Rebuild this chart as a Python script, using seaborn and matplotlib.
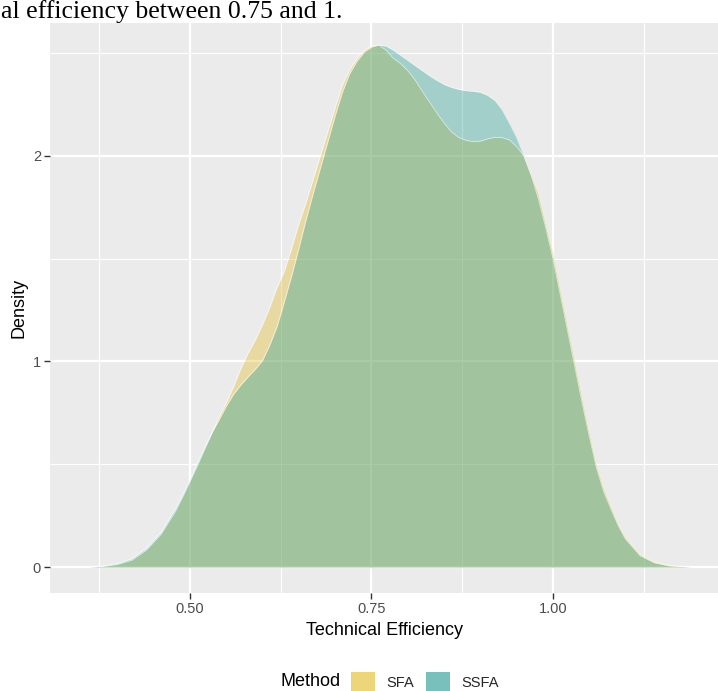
import matplotlib
matplotlib.use("Agg")
import matplotlib.pyplot as plt
from matplotlib.patches import Patch
import seaborn as sns
import pandas as pd

# ---- data ----
x_grid = [0.361, 0.38, 0.40, 0.42, 0.44, 0.46, 0.48, 0.49,
          0.50, 0.51, 0.52, 0.53, 0.54, 0.55, 0.56, 0.57, 0.58, 0.59,
          0.60, 0.61, 0.62, 0.63, 0.64, 0.65, 0.66, 0.67, 0.68, 0.69,
          0.70, 0.71, 0.72, 0.73, 0.74, 0.75, 0.76, 0.77, 0.78, 0.79,
          0.80, 0.81, 0.82, 0.83, 0.84, 0.85, 0.86, 0.87, 0.88, 0.89,
          0.90, 0.91, 0.92, 0.93, 0.94, 0.95, 0.96, 0.97, 0.98, 0.99,
          1.00, 1.01, 1.02, 1.03, 1.04, 1.05, 1.06, 1.07, 1.08, 1.09,
          1.10, 1.12, 1.14, 1.16, 1.19]

sfa_density = [0.0, 0.003, 0.012, 0.033, 0.082, 0.158, 0.270, 0.340,
               0.415, 0.490, 0.570, 0.648, 0.730, 0.800, 0.877, 0.965, 1.040, 1.105,
               1.180, 1.265, 1.360, 1.440, 1.550, 1.670, 1.775, 1.890, 2.005, 2.120,
               2.235, 2.345, 2.420, 2.475, 2.515, 2.535, 2.540, 2.515, 2.475, 2.450,
               2.415, 2.370, 2.315, 2.262, 2.210, 2.160, 2.118, 2.090, 2.076, 2.070,
               2.072, 2.083, 2.091, 2.089, 2.078, 2.045, 2.000, 1.910, 1.820, 1.675,
               1.530, 1.355, 1.180, 1.005, 0.830, 0.660, 0.500, 0.385, 0.295, 0.210,
               0.145, 0.062, 0.025, 0.008, 0.0]

ssfa_density = [0.0, 0.005, 0.017, 0.040, 0.091, 0.168, 0.283, 0.352,
                0.425, 0.503, 0.580, 0.652, 0.715, 0.782, 0.840, 0.885, 0.925, 0.962,
                1.005, 1.080, 1.170, 1.290, 1.415, 1.550, 1.690, 1.820, 1.945, 2.070,
                2.195, 2.310, 2.400, 2.460, 2.505, 2.530, 2.540, 2.535, 2.515, 2.490,
                2.465, 2.440, 2.415, 2.390, 2.368, 2.348, 2.334, 2.324, 2.318, 2.315,
                2.310, 2.295, 2.270, 2.225, 2.160, 2.090, 2.000, 1.905, 1.790, 1.650,
                1.500, 1.325, 1.150, 0.975, 0.800, 0.635, 0.480, 0.365, 0.280, 0.200,
                0.135, 0.055, 0.020, 0.006, 0.0]

methods = ["SFA", "SSFA"]
x_ticks = [0.50, 0.75, 1.00]
x_tick_labels = ["0.50", "0.75", "1.00"]
y_ticks = [0, 1, 2]
y_tick_labels = ["0", "1", "2"]

fill_colors = {"SFA": "#E5BA1D", "SSFA": "#1D9B92"}
key_colors = {"SFA": "#EDD57A", "SSFA": "#79BFBC"}

df = pd.concat([
    pd.DataFrame({"x": x_grid, "density": sfa_density, "Method": "SFA"}),
    pd.DataFrame({"x": x_grid, "density": ssfa_density, "Method": "SSFA"}),
], ignore_index=True)

# ---- style ----
sns.set_theme(style="darkgrid")
plt.rcParams["font.family"] = ["Liberation Sans", "DejaVu Sans"]

W, H = 718, 691
fig = plt.figure(figsize=(W / 100, H / 100), dpi=100)
fig.patch.set_facecolor("white")

left, right, top, bottom = 50, 718, 23, 593
ax = fig.add_axes([left / W, 1 - bottom / H, (right - left) / W, (bottom - top) / H])
ax.set_facecolor("#EBEBEB")
for s in ax.spines.values():
    s.set_visible(False)
ax.set_axisbelow(True)

for m in methods:
    sub = df[df["Method"] == m]
    ax.fill_between(sub["x"], 0, sub["density"], color=fill_colors[m], alpha=0.35,
                    linewidth=0, zorder=2)
    sns.lineplot(data=sub, x="x", y="density", color="white", linewidth=0.6,
                 alpha=0.6, sort=False, estimator=None, legend=False, ax=ax, zorder=3)

ax.set_xlim(0.3072, 1.2273)
ax.set_ylim(-0.1265, 2.647)

ax.set_xticks(x_ticks)
ax.set_xticklabels(x_tick_labels)
ax.set_yticks(y_ticks)
ax.set_yticklabels(y_tick_labels)
ax.set_xticks([0.375, 0.625, 0.875, 1.125], minor=True)
ax.set_yticks([0.5, 1.5, 2.5], minor=True)

ax.grid(which="major", color="white", linewidth=1.6)
ax.grid(which="minor", color="white", linewidth=0.8)
ax.tick_params(which="major", length=4, width=1.0, color="#333333",
               labelcolor="#4D4D4D", labelsize=10.5, pad=2.5)
ax.tick_params(which="minor", length=0)
ax.tick_params(axis="x", which="major", bottom=True)
ax.tick_params(axis="y", which="major", left=True)

ax.set_xlabel("Technical Efficiency", fontsize=13, color="black", labelpad=4)
ax.set_ylabel("Density", fontsize=13, color="black", labelpad=4)

# ---- legend at the bottom ----
fig.text(280 / W, 1 - 682 / H, "Method", fontsize=13, ha="left", va="center", color="black")
handles = [Patch(facecolor=key_colors[m], edgecolor="none", label=m) for m in methods]
fig.legend(handles=handles, loc="center left", bbox_to_anchor=(351 / W, 1 - 682 / H),
           ncol=2, frameon=False, fontsize=10.5, handlelength=1.65, handleheight=1.65,
           handletextpad=0.75, columnspacing=0.85, borderpad=0, borderaxespad=0)

# ---- document text above the chart ----
fig.text(1 / W, 1 - 18 / H, "al efficiency between 0.75 and 1.",
         family=["Liberation Serif", "DejaVu Serif"], fontsize=18.5, ha="left",
         va="baseline", color="black")

fig.savefig("out.png", dpi=100)
